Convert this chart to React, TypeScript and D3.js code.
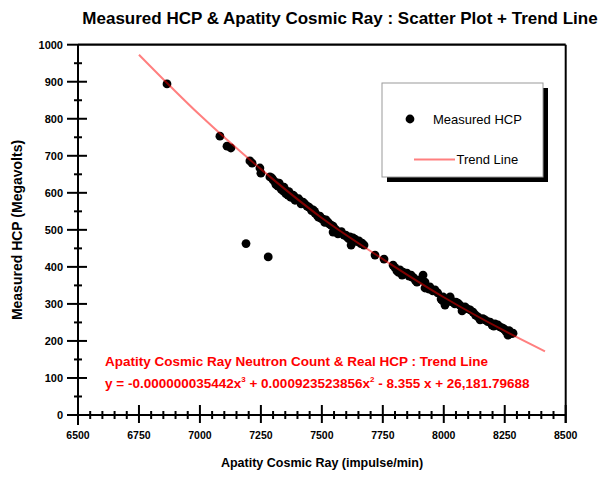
import React from "react";
import * as d3 from "d3";

const W = 610;
const H = 479;

const title = "Measured HCP & Apatity Cosmic Ray : Scatter Plot + Trend Line";
const xTitle = "Apatity Cosmic Ray (impulse/min)";
const yTitle = "Measured HCP (Megavolts)";
const noteLine1 = "Apatity Cosmic Ray Neutron Count & Real HCP : Trend Line";

const xMajorTicks = [6500, 6750, 7000, 7250, 7500, 7750, 8000, 8250, 8500];
const yMajorTicks = [0, 100, 200, 300, 400, 500, 600, 700, 800, 900, 1000];

const pointX = [
  6865, 7082, 7111, 7127, 7205, 7214, 7246, 7250, 7287, 7300, 7308, 7316, 7320, 7328, 7337, 7341,
  7349, 7357, 7361, 7369, 7378, 7386, 7394, 7398, 7410, 7423, 7439, 7451, 7464, 7472, 7480, 7492,
  7505, 7517, 7525, 7538, 7546, 7546, 7558, 7566, 7574, 7591, 7603, 7615, 7620, 7636, 7652, 7665,
  7673, 7718, 7755, 7792, 7808, 7820, 7829, 7833, 7849, 7866, 7878, 7890, 7915, 7902, 7923, 7923,
  7943, 7964, 7989, 7997, 8005, 8013, 8026, 8038, 8050, 8058, 8066, 8075, 8087, 8108, 8120, 8140,
  8149, 8169, 8190, 8198, 8210, 8222, 8239, 8251, 8263, 8272, 8284,
  7189, 7280,
  7295, 7312, 7325, 7333, 7345, 7352, 7365, 7372, 7382, 7390, 7405, 7415, 7430, 7445, 7458, 7470,
  7486, 7498, 7512, 7530, 7550, 7560, 7580, 7598, 7610, 7628, 7645, 7660,
  7940, 7955, 7975, 7995, 8018, 8030, 8045, 8095, 8130, 8160, 8180, 8205, 8230, 8245, 8255, 8268, 8278,
  7800, 7815, 7840, 7858, 7870, 7885,
];
const pointY = [
  894, 753, 726, 721, 686, 680, 667, 653, 643, 635, 629, 627, 618, 621, 613, 605,
  608, 600, 594, 597, 589, 591, 583, 581, 578, 575, 564, 559, 554, 545, 540, 537,
  529, 527, 521, 513, 510, 494, 500, 489, 491, 486, 481, 481, 459, 475, 470, 464,
  459, 432, 421, 405, 389, 392, 378, 386, 383, 378, 370, 359, 378, 365, 343, 359,
  346, 338, 313, 319, 297, 313, 319, 305, 305, 302, 297, 281, 292, 284, 278, 265,
  257, 257, 251, 243, 246, 243, 235, 230, 216, 224, 221,
  463, 427,
  640, 622, 626, 610, 615, 598, 603, 588, 594, 580, 584, 570, 570, 562, 552, 550,
  534, 530, 520, 516, 505, 495, 495, 486, 476, 478, 468, 463,
  340, 335, 330, 309, 306, 310, 300, 287, 270, 260, 252, 240, 238, 233, 226, 228, 220,
  398, 385, 382, 375, 372, 362,
];

const trendX = [6750, 7000, 7250, 7500, 7750, 8000, 8250, 8415];
const trendY = [973, 810, 664, 532, 421, 318, 227, 172];

const FONT = "'Liberation Sans', Arial, Helvetica, sans-serif";

export default function App() {
  const x = d3.scaleLinear().domain([6500, 8500]).range([78, 565.7]);
  const y = d3.scaleLinear().domain([0, 1000]).range([415, 44.7]);

  const xMinor = d3.range(6500, 8500, 50).filter((v) => (v - 6500) % 250 !== 0);
  const yMinor = d3.range(50, 1000, 100);

  const points = pointX.map((v, i) => ({ x: v, y: pointY[i] }));
  const trend = trendX.map((v, i) => [v, trendY[i]] as [number, number]);
  const line = d3
    .line<[number, number]>()
    .x((d) => x(d[0]))
    .y((d) => y(d[1]))
    .curve(d3.curveMonotoneX);

  const x0 = x(6500);
  const x1 = x(8500);
  const y0 = y(0);
  const y1 = y(1000);

  return (
    <svg
      width={W}
      height={H}
      style={{ position: "absolute", left: 0, top: 0, background: "#fff" }}
      fontFamily={FONT}
    >
      <rect x={0} y={0} width={W} height={H} fill="#fff" />
      <text x={340} y={24} textAnchor="middle" fontSize={17} fontWeight="bold" fill="#000">
        {title}
      </text>

      {/* frame */}
      <line x1={x0} y1={y1} x2={x1} y2={y1} stroke="#000" strokeWidth={2.2} />
      <line x1={x1} y1={y1} x2={x1} y2={y0 + 8} stroke="#000" strokeWidth={2} />
      <line x1={x0} y1={y1} x2={x0} y2={y0 + 10} stroke="#000" strokeWidth={2} />
      <line x1={x0 - 9} y1={y0} x2={x1} y2={y0} stroke="#000" strokeWidth={2} />

      {/* y ticks */}
      {yMajorTicks.map((t) => (
        <g key={"ym" + t}>
          <line x1={x0 - 11} x2={t === 1000 ? x0 : x0 + 9} y1={y(t)} y2={y(t)} stroke="#000" strokeWidth={2} />
          <text x={63} y={y(t) + 4} textAnchor="end" fontSize={11} fontWeight="bold" fill="#000">
            {t}
          </text>
        </g>
      ))}
      {yMinor.map((t) => (
        <line key={"yn" + t} x1={x0 - 4} x2={x0 + 4} y1={y(t)} y2={y(t)} stroke="#000" strokeWidth={2} />
      ))}

      {/* x ticks */}
      {xMajorTicks.map((t) => (
        <g key={"xm" + t}>
          <line x1={x(t)} x2={x(t)} y1={y0 - 10} y2={y0 + 8} stroke="#000" strokeWidth={2} />
          <text x={x(t)} y={439} textAnchor="middle" fontSize={10.5} fontWeight="bold" fill="#000">
            {t}
          </text>
        </g>
      ))}
      {xMinor.map((t) => (
        <line key={"xn" + t} x1={x(t)} x2={x(t)} y1={y0 - 4} y2={y0 + 4} stroke="#000" strokeWidth={2} />
      ))}

      <text x={322} y={467} textAnchor="middle" fontSize={12.5} fontWeight="bold" fill="#000">
        {xTitle}
      </text>
      <text
        transform={`translate(22,230) rotate(-90)`}
        textAnchor="middle"
        fontSize={14}
        fontWeight="bold"
        fill="#000"
      >
        {yTitle}
      </text>

      {/* points */}
      {points.map((p, i) => (
        <circle key={i} cx={x(p.x)} cy={y(p.y)} r={4.4} fill="#000" />
      ))}

      {/* trend */}
      <path d={line(trend) || ""} fill="none" stroke="rgba(255,0,0,0.5)" strokeWidth={2} />

      {/* legend */}
      <rect x={387} y={88} width={161} height={94} fill="#000" />
      <rect x={382} y={83} width={161} height={94} fill="#fff" stroke="#9a9a9a" strokeWidth={1} />
      <circle cx={410} cy={119} r={4.4} fill="#000" />
      <text x={433} y={124} fontSize={13} fill="#000">
        Measured HCP
      </text>
      <line x1={414} x2={455} y1={159.5} y2={159.5} stroke="rgba(255,0,0,0.5)" strokeWidth={2} />
      <text x={456.5} y={164} fontSize={13} fill="#000">
        Trend Line
      </text>

      {/* annotation */}
      <text x={105} y={365.5} fontSize={13.5} fontWeight="bold" fill="#ff0000">
        {noteLine1}
      </text>
      <text x={105} y={387.5} fontSize={13.5} fontWeight="bold" fill="#ff0000">
        <tspan>y = -0.000000035442x</tspan>
        <tspan fontSize={8} dy={-6}>3</tspan>
        <tspan dy={6}> + 0.000923523856x</tspan>
        <tspan fontSize={8} dy={-6}>2</tspan>
        <tspan dy={6}> - 8.355 x + 26,181.79688</tspan>
      </text>
    </svg>
  );
}
